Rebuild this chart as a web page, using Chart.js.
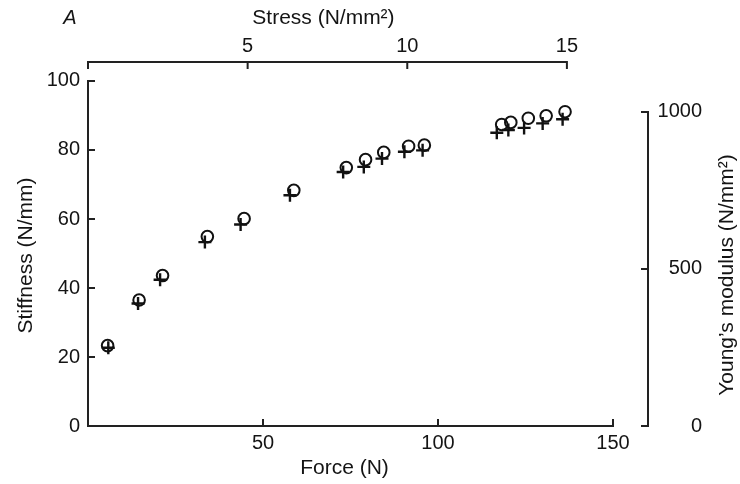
<!DOCTYPE html>
<html><head><meta charset="utf-8">
<script src="https://cdn.jsdelivr.net/npm/chart.js@4/dist/chart.umd.min.js"></script>
<style>html,body{margin:0;padding:0;background:#fff;}#wrap{width:740px;height:484px;position:relative;}</style>
</head><body><div id="wrap"><canvas id="c"></canvas></div>
<script>
// ---- data ----
const forceCircle = [5.6, 14.6, 21.3, 34.1, 44.6, 58.8, 73.8, 79.3, 84.5, 91.6, 96.1, 118.2, 120.8, 125.8, 130.9, 136.3];
const stiffnessCircle = [23.3, 36.5, 43.6, 54.9, 60.1, 68.3, 74.9, 77.2, 79.3, 81.1, 81.4, 87.4, 88.0, 89.2, 89.9, 91.1];
const forcePlus = [5.8, 14.3, 20.6, 33.4, 43.6, 57.7, 72.9, 78.8, 84.0, 90.4, 95.6, 116.8, 120.1, 124.6, 129.9, 135.6];
const stiffnessPlus = [22.7, 35.5, 42.4, 53.3, 58.4, 66.9, 73.6, 75.1, 77.5, 79.5, 79.9, 85.0, 85.8, 86.4, 87.7, 88.9];
const forceTicks = [50, 100, 150];
const stressTicks = [5, 10, 15];
const stiffnessTicks = [0, 20, 40, 60, 80, 100];
const modulusTicks = [0, 500, 1000];
const panelLabel = 'A';
const titleTop = 'Stress (N/mm\u00B2)';
const titleBottom = 'Force (N)';
const titleLeft = 'Stiffness (N/mm)';
const titleRight = 'Young\u2019s modulus (N/mm\u00B2)';

const INK = '#141414';
const FAMILY = '"Liberation Sans", Arial, Helvetica, sans-serif';
const tickFont = {family: FAMILY, size: 20};
const plain = v => String(v);

const toPts = (xs, ys) => xs.map((v, i) => ({x: v, y: ys[i]}));
const setTicks = arr => s => { s.ticks = arr.map(v => ({value: v})); };

const axesPlugin = {
  id: 'axesPlugin',
  afterDraw(chart) {
    const ctx = chart.ctx;
    const {x, x2, y, y2} = chart.scales;
    const a = chart.chartArea;
    const T = 6;
    ctx.save();
    ctx.strokeStyle = '#222';
    ctx.lineWidth = 2;
    ctx.lineCap = 'square';
    ctx.beginPath();
    // left axis
    const ly0 = y.getPixelForValue(stiffnessTicks[0]);
    const ly1 = y.getPixelForValue(stiffnessTicks[stiffnessTicks.length - 1]);
    ctx.moveTo(a.left, ly0); ctx.lineTo(a.left, ly1);
    stiffnessTicks.forEach(v => { const p = y.getPixelForValue(v); ctx.moveTo(a.left, p); ctx.lineTo(a.left + T, p); });
    // bottom axis
    const bx1 = x.getPixelForValue(forceTicks[forceTicks.length - 1]);
    ctx.moveTo(a.left, a.bottom); ctx.lineTo(bx1, a.bottom);
    forceTicks.forEach(v => { const p = x.getPixelForValue(v); ctx.moveTo(p, a.bottom); ctx.lineTo(p, a.bottom - T); });
    // top axis
    const tx0 = x2.getPixelForValue(0);
    const tx1 = x2.getPixelForValue(stressTicks[stressTicks.length - 1]);
    ctx.moveTo(tx0, a.top); ctx.lineTo(tx1, a.top);
    [0].concat(stressTicks).forEach(v => { const p = x2.getPixelForValue(v); ctx.moveTo(p, a.top); ctx.lineTo(p, a.top + T); });
    // right axis
    const ry0 = y2.getPixelForValue(modulusTicks[0]);
    const ry1 = y2.getPixelForValue(modulusTicks[modulusTicks.length - 1]);
    ctx.moveTo(a.right, ry0); ctx.lineTo(a.right, ry1);
    modulusTicks.forEach(v => { const p = y2.getPixelForValue(v); ctx.moveTo(a.right, p); ctx.lineTo(a.right - T, p); });
    ctx.stroke();

    // titles
    ctx.fillStyle = INK;
    ctx.textBaseline = 'middle';
    ctx.textAlign = 'center';
    ctx.font = '21px ' + FAMILY;
    ctx.fillText(titleTop, (tx0 + tx1) / 2 - 4, 18);
    ctx.fillText(titleBottom, (a.left + bx1) / 2 - 6, 468);
    ctx.save(); ctx.translate(26, (ly0 + ly1) / 2 + 2); ctx.rotate(-Math.PI / 2); ctx.fillText(titleLeft, 0, 0); ctx.restore();
    ctx.save(); ctx.translate(727, (ry0 + ry1) / 2 + 6); ctx.rotate(-Math.PI / 2); ctx.fillText(titleRight, 0, 0); ctx.restore();
    ctx.font = 'italic 20px ' + FAMILY;
    ctx.fillText(panelLabel, 70, 18);
    ctx.restore();
  }
};

new Chart(document.getElementById('c'), {
  type: 'scatter',
  data: {
    datasets: [
      {label: 'plus', data: toPts(forcePlus, stiffnessPlus), pointStyle: 'cross', radius: 6.5,
       borderColor: '#111', backgroundColor: '#111', borderWidth: 2.4, xAxisID: 'x', yAxisID: 'y'},
      {label: 'circle', data: toPts(forceCircle, stiffnessCircle), pointStyle: 'circle', radius: 5.8,
       borderColor: '#111', backgroundColor: 'rgba(0,0,0,0)', borderWidth: 2, xAxisID: 'x', yAxisID: 'y'}
    ]
  },
  options: {
    responsive: true, maintainAspectRatio: false, animation: false,
    layout: {padding: {left: 0, top: 0, bottom: 0, right: 38}},
    plugins: {legend: {display: false}, tooltip: {enabled: false}},
    scales: {
      x: {type: 'linear', position: 'bottom', min: 0, max: 160,
          afterBuildTicks: setTicks(forceTicks), afterFit: s => { s.height = 58; },
          grid: {display: false, drawTicks: false}, border: {display: false},
          ticks: {padding: 5, font: tickFont, color: INK, maxRotation: 0, autoSkip: false, callback: plain}},
      x2: {type: 'linear', position: 'top', min: 0, max: 17.54,
          afterBuildTicks: setTicks(stressTicks), afterFit: s => { s.height = 62; },
          grid: {display: false, drawTicks: false}, border: {display: false},
          ticks: {padding: 4, font: tickFont, color: INK, maxRotation: 0, autoSkip: false, callback: plain}},
      y: {type: 'linear', position: 'left', min: 0, max: 105.5,
          afterBuildTicks: setTicks(stiffnessTicks), afterFit: s => { s.width = 88; },
          grid: {display: false, drawTicks: false}, border: {display: false},
          ticks: {padding: 8, font: tickFont, color: INK, autoSkip: false, callback: plain}},
      y2: {type: 'linear', position: 'right', min: 0, max: 1159,
          afterBuildTicks: setTicks(modulusTicks), afterFit: s => { s.width = 54; },
          grid: {display: false, drawTicks: false}, border: {display: false},
          ticks: {padding: 8, crossAlign: 'far', font: tickFont, color: INK, autoSkip: false, callback: plain}}
    }
  },
  plugins: [axesPlugin]
});
</script>
</body></html>
